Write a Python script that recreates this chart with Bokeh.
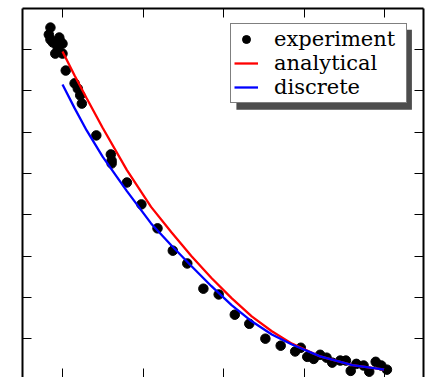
from bokeh.plotting import figure
from bokeh.models import (Legend, LegendItem, LinearAxis, FixedTicker, BoxAnnotation,
                          Range1d, CustomJSTickFormatter)
from bokeh.embed import file_html
from bokeh.resources import INLINE

# experiment points
exp_x = [-1.5, -1.7, -1.5, -1.2, -0.4, 0.0, -0.6, -0.9, 0.0, 0.4, 1.5, 1.9, 2.2, 2.4, 4.2,
         6.0, 6.1, 6.1, 8.0, 9.8, 11.8, 13.7, 15.5, 17.5, 19.4, 21.4, 23.2, 25.2, 27.1, 28.9,
         29.6, 30.4, 31.2, 32.0, 32.8, 33.5, 34.5, 35.2, 35.8, 36.5, 37.4, 38.1, 38.9, 39.6, 40.3,
         -0.25, -0.6]
exp_y = [85.3, 83.6, 82.4, 81.7, 82.9, 81.4, 80.5, 79.0, 79.0, 74.9, 71.8, 70.5, 68.9, 66.9, 59.2,
         54.6, 53.1, 52.4, 47.8, 42.5, 36.7, 31.3, 28.2, 22.1, 20.7, 15.8, 13.6, 10.0, 8.3, 6.9,
         7.8, 5.6, 5.1, 6.1, 5.4, 4.2, 4.7, 4.7, 2.2, 3.9, 3.5, 2.0, 4.4, 3.5, 2.5,
         81.9, 81.2]

# model curves
curve_x = [0, 1.5, 3, 5, 8, 11, 13.5, 16, 18.5, 21, 23.5, 26, 28.5, 32, 36, 40]
analytical_y = [79.5, 73.7, 68.2, 61.0, 50.8, 41.9, 35.8, 30.0, 24.7, 19.8, 15.4, 11.8, 8.8, 5.7, 3.6, 2.5]
discrete_y = [71.5, 65.8, 60.4, 54.0, 45.7, 37.9, 32.6, 27.6, 22.7, 18.1, 14.2, 11.0, 8.6, 5.7, 3.6, 2.5]

x_ticks = [0, 10, 20, 30, 40]
y_ticks = [0, 10, 20, 30, 40, 50, 60, 70, 80, 90]

p = figure(width=426, height=377, output_backend="svg", toolbar_location=None,
           x_range=Range1d(-4.97, 44.84), y_range=Range1d(0.6, 89.92),
           x_axis_location=None, y_axis_location=None,
           min_border_left=22, min_border_right=3, min_border_top=8, min_border_bottom=0)
p.grid.visible = False
p.outline_line_color = None
p.background_fill_color = "white"
p.border_fill_color = "white"

blank = CustomJSTickFormatter(code="return ''")

def make_axis(ticks, spine):
    return LinearAxis(ticker=FixedTicker(ticks=ticks), formatter=blank,
                      axis_line_color="black" if spine else None, axis_line_width=2,
                      major_tick_in=9, major_tick_out=0,
                      major_tick_line_color="black", major_tick_line_width=1,
                      minor_tick_line_color=None, major_label_text_font_size="0px",
                      major_label_standoff=0)

p.add_layout(make_axis(x_ticks, False), "below")
p.add_layout(make_axis(x_ticks, True), "above")
p.add_layout(make_axis(y_ticks, True), "left")
p.add_layout(make_axis(y_ticks, True), "right")

# legend shadow
shadow = BoxAnnotation(left=21.6, right=43.4, top=84.8, bottom=65.4,
                       fill_color="#4d4d4d", fill_alpha=1, line_color=None)
p.add_layout(shadow)

r_exp = p.scatter(exp_x, exp_y, size=9.5, color="black")
r_ana = p.line(curve_x, analytical_y, line_color="red", line_width=2.3)
r_dis = p.line(curve_x, discrete_y, line_color="blue", line_width=2.3)

legend = Legend(items=[LegendItem(label="experiment", renderers=[r_exp]),
                       LegendItem(label="analytical", renderers=[r_ana]),
                       LegendItem(label="discrete", renderers=[r_dis])],
                location=(208, 274), label_text_font="DejaVu Serif",
                label_text_font_size="21px", label_text_color="black",
                border_line_color="black", border_line_width=1.5,
                background_fill_color="white", background_fill_alpha=1,
                padding=3, spacing=0, glyph_width=24, glyph_height=20,
                label_height=20, label_width=129, label_standoff=16, margin=0)
p.add_layout(legend, "center")

open("out.html", "w").write(file_html(p, INLINE))
